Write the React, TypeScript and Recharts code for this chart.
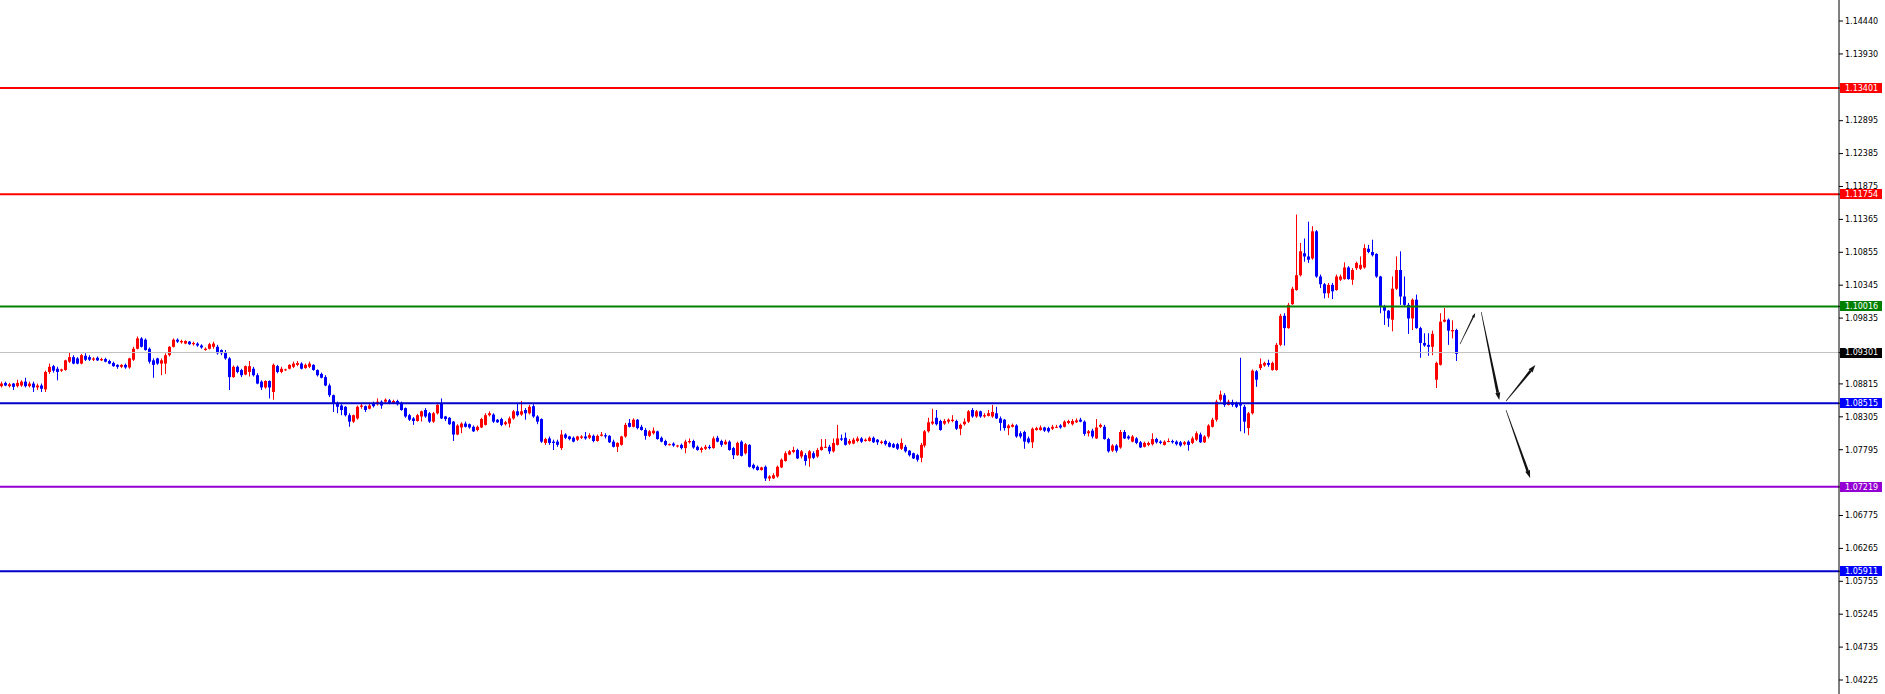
import React from 'react';
import { ComposedChart, Bar, XAxis, YAxis, ReferenceLine } from 'recharts';

// ---------- candle data (oldest -> newest) ----------
const openP = [
  1.0878, 1.0883, 1.0878, 1.0882, 1.0878, 1.0879, 1.0885, 1.0878, 1.0882, 1.0876,
  1.0879, 1.0873, 1.0900, 1.0909, 1.0905, 1.0902, 1.0903, 1.0916, 1.0923, 1.0921,
  1.0913, 1.0925, 1.0923, 1.0919, 1.0922, 1.0918, 1.0920, 1.0917, 1.0914, 1.0911,
  1.0908, 1.0911, 1.0907, 1.0919, 1.0936, 1.0952, 1.0950, 1.0936, 1.0918, 1.0921,
  1.0913, 1.0913, 1.0926, 1.0939, 1.0950, 1.0946, 1.0944, 1.0947, 1.0943, 1.0944,
  1.0941, 1.0934, 1.0936, 1.0939, 1.0939, 1.0934, 1.0931, 1.0921, 1.0892, 1.0908,
  1.0903, 1.0896, 1.0900, 1.0905, 1.0895, 1.0885, 1.0876, 1.0886, 1.0869, 1.0909,
  1.0900, 1.0903, 1.0905, 1.0908, 1.0911, 1.0913, 1.0906, 1.0908, 1.0911, 1.0903,
  1.0897, 1.0892, 1.0879, 1.0864, 1.0851, 1.0848, 1.0846, 1.0833, 1.0823, 1.0828,
  1.0846, 1.0847, 1.0843, 1.0851, 1.0850, 1.0854, 1.0854, 1.0856, 1.0852, 1.0855,
  1.0852, 1.0844, 1.0833, 1.0828, 1.0824, 1.0831, 1.0841, 1.0836, 1.0823, 1.0836,
  1.0852, 1.0831, 1.0829, 1.0823, 1.0803, 1.0814, 1.0820, 1.0819, 1.0815, 1.0810,
  1.0814, 1.0818, 1.0833, 1.0834, 1.0826, 1.0827, 1.0819, 1.0820, 1.0828, 1.0839,
  1.0834, 1.0841, 1.0836, 1.0847, 1.0831, 1.0827, 1.0790, 1.0797, 1.0792, 1.0792,
  1.0782, 1.0803, 1.0800, 1.0798, 1.0795, 1.0798, 1.0800, 1.0798, 1.0801, 1.0793,
  1.0801, 1.0802, 1.0801, 1.0792, 1.0784, 1.0787, 1.0800, 1.0821, 1.0815, 1.0826,
  1.0815, 1.0810, 1.0801, 1.0805, 1.0808, 1.0798, 1.0793, 1.0787, 1.0789, 1.0785,
  1.0787, 1.0782, 1.0791, 1.0793, 1.0784, 1.0779, 1.0781, 1.0784, 1.0782, 1.0798,
  1.0793, 1.0788, 1.0792, 1.0782, 1.0771, 1.0792, 1.0774, 1.0787, 1.0756, 1.0753,
  1.0748, 1.0753, 1.0735, 1.0735, 1.0738, 1.0752, 1.0762, 1.0772, 1.0776, 1.0779,
  1.0769, 1.0771, 1.0766, 1.0774, 1.0769, 1.0779, 1.0783, 1.0784, 1.0777, 1.0787,
  1.0797, 1.0798, 1.0789, 1.0789, 1.0793, 1.0797, 1.0793, 1.0793, 1.0798, 1.0795,
  1.0790, 1.0793, 1.0790, 1.0788, 1.0788, 1.0781, 1.0784, 1.0778, 1.0774, 1.0771,
  1.0767, 1.0786, 1.0808, 1.0820, 1.0829, 1.0824, 1.0820, 1.0823, 1.0824, 1.0824,
  1.0812, 1.0819, 1.0823, 1.0841, 1.0831, 1.0839, 1.0831, 1.0832, 1.0831, 1.0836,
  1.0828, 1.0826, 1.0813, 1.0815, 1.0817, 1.0805, 1.0807, 1.0797, 1.0791, 1.0810,
  1.0810, 1.0814, 1.0813, 1.0812, 1.0814, 1.0817, 1.0815, 1.0821, 1.0819, 1.0822,
  1.0826, 1.0823, 1.0805, 1.0809, 1.0797, 1.0815, 1.0815, 1.0796, 1.0778, 1.0786,
  1.0783, 1.0807, 1.0800, 1.0792, 1.0797, 1.0791, 1.0784, 1.0787, 1.0788, 1.0796,
  1.0792, 1.0787, 1.0792, 1.0793, 1.0792, 1.0791, 1.0788, 1.0792, 1.0790, 1.0795,
  1.0803, 1.0791, 1.0800, 1.0815, 1.0826, 1.0857, 1.0864, 1.0849, 1.0853, 1.0852,
  1.0852, 1.0846, 1.0813, 1.0836, 1.0901, 1.0906, 1.0910, 1.0914, 1.0903, 1.0903,
  1.0942, 1.0987, 1.0968, 1.1005, 1.1027, 1.1050, 1.1084, 1.1079, 1.1076, 1.1118,
  1.1048, 1.1036, 1.1022, 1.1035, 1.1027, 1.1043, 1.1044, 1.1062, 1.1043, 1.1061,
  1.1060, 1.1062, 1.1091, 1.1086, 1.1083, 1.1048, 1.1001, 1.0995, 1.0981, 1.1029,
  1.1058, 1.1017, 1.1004, 1.0983, 1.1012, 1.0968, 1.0945, 1.0942, 1.0939, 1.0888,
  1.0911, 1.0978, 1.0981, 1.0963, 1.0965,
];

const highP = [
  1.0885, 1.0885, 1.0883, 1.0883, 1.0888, 1.0887, 1.0891, 1.0885, 1.0885, 1.0882,
  1.0882, 1.0902, 1.0913, 1.0911, 1.0908, 1.0905, 1.0919, 1.0931, 1.0926, 1.0923,
  1.0928, 1.0929, 1.0926, 1.0923, 1.0924, 1.0922, 1.0922, 1.0919, 1.0916, 1.0912,
  1.0912, 1.0913, 1.0922, 1.0939, 1.0955, 1.0954, 1.0952, 1.0938, 1.0921, 1.0922,
  1.0921, 1.0929, 1.0940, 1.0952, 1.0952, 1.0950, 1.0949, 1.0948, 1.0947, 1.0946,
  1.0943, 1.0938, 1.0945, 1.0947, 1.0942, 1.0935, 1.0934, 1.0923, 1.0910, 1.0910,
  1.0905, 1.0910, 1.0917, 1.0908, 1.0898, 1.0887, 1.0887, 1.0887, 1.0913, 1.0911,
  1.0908, 1.0905, 1.0912, 1.0916, 1.0917, 1.0915, 1.0913, 1.0916, 1.0912, 1.0904,
  1.0899, 1.0895, 1.0882, 1.0865, 1.0854, 1.0850, 1.0847, 1.0836, 1.0834, 1.0848,
  1.0851, 1.0848, 1.0851, 1.0854, 1.0859, 1.0856, 1.0859, 1.0858, 1.0857, 1.0857,
  1.0854, 1.0845, 1.0835, 1.0830, 1.0835, 1.0840, 1.0844, 1.0838, 1.0838, 1.0850,
  1.0859, 1.0832, 1.0830, 1.0824, 1.0819, 1.0822, 1.0823, 1.0820, 1.0817, 1.0817,
  1.0829, 1.0836, 1.0839, 1.0836, 1.0827, 1.0829, 1.0824, 1.0831, 1.0841, 1.0852,
  1.0855, 1.0844, 1.0849, 1.0850, 1.0833, 1.0828, 1.0798, 1.0800, 1.0795, 1.0795,
  1.0810, 1.0805, 1.0801, 1.0800, 1.0801, 1.0802, 1.0807, 1.0805, 1.0803, 1.0803,
  1.0807, 1.0805, 1.0802, 1.0795, 1.0791, 1.0801, 1.0821, 1.0827, 1.0828, 1.0827,
  1.0818, 1.0813, 1.0810, 1.0814, 1.0809, 1.0800, 1.0795, 1.0789, 1.0791, 1.0787,
  1.0789, 1.0795, 1.0797, 1.0795, 1.0786, 1.0784, 1.0787, 1.0787, 1.0800, 1.0801,
  1.0795, 1.0795, 1.0794, 1.0784, 1.0792, 1.0794, 1.0790, 1.0788, 1.0758, 1.0755,
  1.0753, 1.0755, 1.0740, 1.0743, 1.0755, 1.0766, 1.0777, 1.0779, 1.0784, 1.0781,
  1.0779, 1.0774, 1.0779, 1.0777, 1.0782, 1.0796, 1.0796, 1.0787, 1.0797, 1.0818,
  1.0803, 1.0806, 1.0796, 1.0798, 1.0800, 1.0799, 1.0797, 1.0800, 1.0800, 1.0796,
  1.0794, 1.0795, 1.0792, 1.0790, 1.0790, 1.0797, 1.0787, 1.0779, 1.0775, 1.0773,
  1.0790, 1.0810, 1.0829, 1.0843, 1.0841, 1.0826, 1.0827, 1.0828, 1.0833, 1.0826,
  1.0820, 1.0828, 1.0841, 1.0844, 1.0841, 1.0840, 1.0836, 1.0841, 1.0849, 1.0846,
  1.0831, 1.0827, 1.0819, 1.0820, 1.0819, 1.0808, 1.0809, 1.0800, 1.0814, 1.0815,
  1.0817, 1.0815, 1.0815, 1.0818, 1.0818, 1.0819, 1.0825, 1.0826, 1.0827, 1.0828,
  1.0829, 1.0825, 1.0810, 1.0812, 1.0827, 1.0820, 1.0818, 1.0798, 1.0788, 1.0788,
  1.0810, 1.0810, 1.0802, 1.0802, 1.0799, 1.0793, 1.0792, 1.0792, 1.0805, 1.0798,
  1.0794, 1.0794, 1.0797, 1.0795, 1.0794, 1.0793, 1.0793, 1.0794, 1.0800, 1.0808,
  1.0806, 1.0802, 1.0819, 1.0829, 1.0857, 1.0871, 1.0867, 1.0857, 1.0857, 1.0854,
  1.0922, 1.0849, 1.0838, 1.0904, 1.0903, 1.0921, 1.0916, 1.0919, 1.0916, 1.0945,
  1.0990, 1.0991, 1.1007, 1.1032, 1.1144, 1.1100, 1.1107, 1.1133, 1.1126, 1.1120,
  1.1051, 1.1038, 1.1038, 1.1038, 1.1051, 1.1051, 1.1070, 1.1064, 1.1061, 1.1071,
  1.1079, 1.1098, 1.1097, 1.1105, 1.1084, 1.1049, 1.1004, 1.0996, 1.1048, 1.1079,
  1.1087, 1.1048, 1.1007, 1.1014, 1.1020, 1.0970, 1.0960, 1.0960, 1.0964, 1.0916,
  1.0991, 1.0999, 1.0983, 1.0980, 1.0967,
];

const lowP = [
  1.0876, 1.0878, 1.0876, 1.0872, 1.0876, 1.0877, 1.0876, 1.0876, 1.0869, 1.0872,
  1.0869, 1.0869, 1.0897, 1.0899, 1.0887, 1.0900, 1.0902, 1.0914, 1.0912, 1.0912,
  1.0912, 1.0917, 1.0917, 1.0917, 1.0917, 1.0917, 1.0915, 1.0912, 1.0908, 1.0905,
  1.0906, 1.0905, 1.0905, 1.0917, 1.0935, 1.0938, 1.0933, 1.0913, 1.0891, 1.0911,
  1.0895, 1.0897, 1.0924, 1.0938, 1.0945, 1.0944, 1.0943, 1.0942, 1.0941, 1.0939,
  1.0936, 1.0933, 1.0935, 1.0936, 1.0927, 1.0926, 1.0919, 1.0872, 1.0891, 1.0898,
  1.0892, 1.0895, 1.0893, 1.0893, 1.0881, 1.0872, 1.0874, 1.0859, 1.0857, 1.0898,
  1.0898, 1.0902, 1.0904, 1.0906, 1.0909, 1.0904, 1.0905, 1.0906, 1.0902, 1.0893,
  1.0890, 1.0878, 1.0861, 1.0838, 1.0836, 1.0833, 1.0831, 1.0815, 1.0821, 1.0826,
  1.0843, 1.0838, 1.0842, 1.0845, 1.0848, 1.0843, 1.0852, 1.0850, 1.0851, 1.0848,
  1.0840, 1.0829, 1.0824, 1.0818, 1.0823, 1.0823, 1.0829, 1.0821, 1.0821, 1.0834,
  1.0827, 1.0824, 1.0818, 1.0793, 1.0802, 1.0805, 1.0814, 1.0812, 1.0807, 1.0808,
  1.0813, 1.0817, 1.0831, 1.0821, 1.0821, 1.0816, 1.0817, 1.0814, 1.0826, 1.0831,
  1.0832, 1.0826, 1.0834, 1.0829, 1.0819, 1.0790, 1.0787, 1.0787, 1.0779, 1.0784,
  1.0779, 1.0796, 1.0794, 1.0791, 1.0793, 1.0796, 1.0795, 1.0796, 1.0791, 1.0792,
  1.0800, 1.0797, 1.0790, 1.0783, 1.0776, 1.0786, 1.0798, 1.0814, 1.0814, 1.0811,
  1.0809, 1.0795, 1.0799, 1.0803, 1.0795, 1.0791, 1.0785, 1.0786, 1.0784, 1.0783,
  1.0780, 1.0774, 1.0789, 1.0781, 1.0778, 1.0775, 1.0779, 1.0780, 1.0781, 1.0791,
  1.0784, 1.0787, 1.0778, 1.0765, 1.0770, 1.0769, 1.0772, 1.0752, 1.0749, 1.0747,
  1.0747, 1.0731, 1.0731, 1.0734, 1.0736, 1.0751, 1.0761, 1.0771, 1.0774, 1.0765,
  1.0766, 1.0755, 1.0753, 1.0765, 1.0767, 1.0778, 1.0782, 1.0773, 1.0775, 1.0786,
  1.0793, 1.0786, 1.0787, 1.0788, 1.0791, 1.0790, 1.0792, 1.0792, 1.0790, 1.0787,
  1.0788, 1.0786, 1.0783, 1.0782, 1.0779, 1.0779, 1.0775, 1.0769, 1.0765, 1.0761,
  1.0760, 1.0783, 1.0806, 1.0818, 1.0817, 1.0809, 1.0818, 1.0820, 1.0822, 1.0810,
  1.0802, 1.0817, 1.0821, 1.0829, 1.0829, 1.0829, 1.0829, 1.0831, 1.0829, 1.0827,
  1.0809, 1.0809, 1.0802, 1.0814, 1.0798, 1.0797, 1.0781, 1.0789, 1.0782, 1.0809,
  1.0809, 1.0807, 1.0806, 1.0810, 1.0813, 1.0812, 1.0814, 1.0819, 1.0817, 1.0821,
  1.0822, 1.0801, 1.0800, 1.0797, 1.0796, 1.0813, 1.0795, 1.0775, 1.0776, 1.0775,
  1.0781, 1.0796, 1.0795, 1.0791, 1.0788, 1.0782, 1.0783, 1.0785, 1.0786, 1.0789,
  1.0788, 1.0786, 1.0791, 1.0789, 1.0786, 1.0784, 1.0786, 1.0778, 1.0788, 1.0793,
  1.0790, 1.0790, 1.0797, 1.0814, 1.0823, 1.0854, 1.0846, 1.0848, 1.0846, 1.0844,
  1.0808, 1.0805, 1.0802, 1.0834, 1.0877, 1.0903, 1.0908, 1.0908, 1.0902, 1.0902,
  1.0940, 1.0941, 1.0967, 1.1004, 1.1026, 1.1048, 1.1071, 1.1069, 1.1074, 1.1046,
  1.1030, 1.1014, 1.1015, 1.1013, 1.1026, 1.1041, 1.1043, 1.1043, 1.1035, 1.1058,
  1.1058, 1.1060, 1.1084, 1.1079, 1.1046, 1.0991, 1.0973, 1.0970, 1.0963, 1.1027,
  1.1004, 1.1001, 1.0959, 1.0965, 1.0967, 1.0922, 1.0939, 1.0925, 1.0926, 1.0875,
  1.0910, 1.0977, 1.0942, 1.0952, 1.0917,
];

const closeP = [
  1.0882, 1.0879, 1.0881, 1.0877, 1.0883, 1.0885, 1.0878, 1.0882, 1.0876, 1.0879,
  1.0874, 1.0900, 1.0908, 1.0902, 1.0900, 1.0904, 1.0918, 1.0923, 1.0913, 1.0913,
  1.0926, 1.0919, 1.0919, 1.0921, 1.0918, 1.0920, 1.0916, 1.0913, 1.0909, 1.0908,
  1.0911, 1.0907, 1.0921, 1.0936, 1.0952, 1.0939, 1.0934, 1.0916, 1.0911, 1.0913,
  1.0918, 1.0926, 1.0939, 1.0950, 1.0947, 1.0948, 1.0948, 1.0943, 1.0945, 1.0941,
  1.0938, 1.0936, 1.0943, 1.0944, 1.0929, 1.0929, 1.0921, 1.0892, 1.0908, 1.0900,
  1.0895, 1.0909, 1.0909, 1.0895, 1.0882, 1.0876, 1.0886, 1.0876, 1.0911, 1.0900,
  1.0905, 1.0904, 1.0911, 1.0913, 1.0914, 1.0905, 1.0911, 1.0913, 1.0903, 1.0895,
  1.0891, 1.0879, 1.0864, 1.0851, 1.0846, 1.0841, 1.0833, 1.0823, 1.0833, 1.0846,
  1.0848, 1.0841, 1.0848, 1.0847, 1.0854, 1.0848, 1.0857, 1.0852, 1.0855, 1.0850,
  1.0841, 1.0831, 1.0826, 1.0824, 1.0833, 1.0839, 1.0831, 1.0823, 1.0836, 1.0849,
  1.0828, 1.0827, 1.0819, 1.0803, 1.0817, 1.0820, 1.0815, 1.0814, 1.0808, 1.0815,
  1.0827, 1.0833, 1.0836, 1.0823, 1.0822, 1.0818, 1.0822, 1.0828, 1.0839, 1.0833,
  1.0839, 1.0836, 1.0846, 1.0831, 1.0823, 1.0792, 1.0796, 1.0790, 1.0790, 1.0787,
  1.0803, 1.0798, 1.0796, 1.0792, 1.0800, 1.0800, 1.0797, 1.0802, 1.0793, 1.0801,
  1.0803, 1.0800, 1.0791, 1.0784, 1.0790, 1.0800, 1.0818, 1.0815, 1.0826, 1.0813,
  1.0810, 1.0801, 1.0808, 1.0809, 1.0796, 1.0792, 1.0787, 1.0788, 1.0786, 1.0786,
  1.0782, 1.0792, 1.0793, 1.0783, 1.0779, 1.0782, 1.0784, 1.0782, 1.0797, 1.0792,
  1.0787, 1.0792, 1.0779, 1.0771, 1.0790, 1.0770, 1.0788, 1.0753, 1.0751, 1.0748,
  1.0752, 1.0735, 1.0738, 1.0740, 1.0753, 1.0764, 1.0774, 1.0777, 1.0779, 1.0766,
  1.0777, 1.0762, 1.0777, 1.0767, 1.0779, 1.0784, 1.0784, 1.0777, 1.0790, 1.0797,
  1.0795, 1.0787, 1.0793, 1.0795, 1.0797, 1.0792, 1.0795, 1.0798, 1.0791, 1.0791,
  1.0792, 1.0788, 1.0784, 1.0783, 1.0781, 1.0790, 1.0777, 1.0771, 1.0766, 1.0764,
  1.0787, 1.0808, 1.0822, 1.0823, 1.0819, 1.0810, 1.0824, 1.0826, 1.0826, 1.0812,
  1.0818, 1.0823, 1.0839, 1.0831, 1.0839, 1.0831, 1.0833, 1.0836, 1.0838, 1.0828,
  1.0821, 1.0813, 1.0817, 1.0818, 1.0800, 1.0800, 1.0792, 1.0791, 1.0812, 1.0813,
  1.0814, 1.0809, 1.0808, 1.0815, 1.0815, 1.0814, 1.0823, 1.0824, 1.0824, 1.0825,
  1.0823, 1.0804, 1.0808, 1.0800, 1.0814, 1.0818, 1.0796, 1.0777, 1.0786, 1.0778,
  1.0807, 1.0797, 1.0797, 1.0800, 1.0790, 1.0783, 1.0790, 1.0790, 1.0796, 1.0791,
  1.0790, 1.0792, 1.0793, 1.0791, 1.0788, 1.0786, 1.0791, 1.0787, 1.0797, 1.0805,
  1.0791, 1.0800, 1.0817, 1.0826, 1.0854, 1.0865, 1.0849, 1.0854, 1.0849, 1.0846,
  1.0848, 1.0823, 1.0836, 1.0902, 1.0888, 1.0912, 1.0914, 1.0911, 1.0914, 1.0942,
  1.0987, 1.0968, 1.1004, 1.1029, 1.1050, 1.1087, 1.1079, 1.1074, 1.1118, 1.1048,
  1.1036, 1.1022, 1.1035, 1.1025, 1.1048, 1.1048, 1.1062, 1.1044, 1.1058, 1.1069,
  1.1066, 1.1092, 1.1086, 1.1081, 1.1048, 1.1001, 1.0995, 1.0983, 1.1029, 1.1058,
  1.1017, 1.1004, 1.0983, 1.1012, 1.0968, 1.0945, 1.0941, 1.0939, 1.0959, 1.0914,
  1.0978, 1.0981, 1.0964, 1.0965, 1.0928,
];

// ---------- axis / levels ----------
const SLOT_COUNT = 460; // visible bar slots in the window
const priceMin = 1.04008;
const priceMax = 1.14766;

const tickValues = [
  1.1444, 1.1393, 1.12895, 1.12385, 1.11875, 1.11365, 1.10855, 1.10345, 1.09835,
  1.08815, 1.08305, 1.07795, 1.06775, 1.06265, 1.05755, 1.05245, 1.04735, 1.04225,
];

const levelPrices = [1.13401, 1.11754, 1.10016, 1.09301, 1.08515, 1.07219, 1.05911];
const levelLineColors = ['#ff0000', '#ff0000', '#008000', '#c0c0c0', '#0000c8', '#9400d3', '#0000c8'];
const levelTagColors = ['#ff0000', '#ff0000', '#008000', '#000000', '#0000ff', '#9400d3', '#0000ff'];
const levelLineWidths = [2, 2, 2, 1, 2, 2, 2];

// hand-drawn projection arrows (bar index, price)
const arrowX1 = [364.4, 369.7, 375.9, 375.9];
const arrowP1 = [1.09433, 1.09929, 1.08549, 1.0841];
const arrowX2 = [368.2, 374.2, 383.2, 381.9];
const arrowP2 = [1.09914, 1.08565, 1.09107, 1.07356];
const arrowEndWidth = [1.4, 2.8, 2.6, 2.6];
const arrowHead = [3, 5, 5, 5];

const BULL = '#ff0000';
const BEAR = '#0000ff';
const FONT = '"DejaVu Sans", Verdana, sans-serif';

const rows = Array.from({ length: SLOT_COUNT }, (_, k) =>
  k < openP.length
    ? { k, o: openP[k], h: highP[k], l: lowP[k], c: closeP[k], range: [lowP[k], highP[k]] }
    : { k }
);

const Candle = (props: any) => {
  const { x, y, width, height, payload } = props;
  if (!payload || payload.o === undefined || x == null || y == null) return <g />;
  const { o, h, l, c } = payload;
  const top = Math.min(y, y + height);
  const bot = Math.max(y, y + height);
  const span = h - l;
  const toY = (p: number) => (span > 0 ? top + ((h - p) / span) * (bot - top) : top);
  const cx = Math.floor(x + width / 2) + 0.5;
  const color = c >= o ? BULL : BEAR;
  const bTop = toY(Math.max(o, c));
  const bBot = toY(Math.min(o, c));
  const bh = Math.max(1, bBot - bTop);
  return (
    <g>
      <line x1={cx} x2={cx} y1={top} y2={Math.max(bot, top + 1)} stroke={color} strokeWidth={1} />
      <rect x={cx - 1.5} y={bTop} width={3} height={bh} fill={color} />
    </g>
  );
};

const AxisTick = (props: any) => {
  const { x, y, payload } = props;
  const v = payload.value as number;
  const li = levelPrices.indexOf(v);
  const label = v.toFixed(5);
  if (li >= 0) {
    return (
      <g>
        <rect x={x - 4} y={Math.round(y) - 5} width={42} height={10} fill={levelTagColors[li]} />
        <text x={x + 1} y={y} dy="0.35em" fill="#ffffff" fontSize={8} fontFamily={FONT} textAnchor="start">
          {label}
        </text>
      </g>
    );
  }
  return (
    <text x={x + 1} y={y} dy="0.35em" fill="#000000" fontSize={8} fontFamily={FONT} textAnchor="start">
      {label}
    </text>
  );
};

const makeArrow = (w: number, head: number) => (p: any) => {
  const { x1, y1, x2, y2 } = p;
  if ([x1, y1, x2, y2].some((v) => v == null || isNaN(v))) return <g />;
  const dx = x2 - x1;
  const dy = y2 - y1;
  const len = Math.hypot(dx, dy) || 1;
  const ux = dx / len;
  const uy = dy / len;
  const nx = -uy;
  const ny = ux;
  const hl = head * 1.5;
  const bx = x2 - ux * hl;
  const by = y2 - uy * hl;
  const w0 = 0.6;
  const shaft = [
    [x1 + (nx * w0) / 2, y1 + (ny * w0) / 2],
    [bx + (nx * w) / 2, by + (ny * w) / 2],
    [bx - (nx * w) / 2, by - (ny * w) / 2],
    [x1 - (nx * w0) / 2, y1 - (ny * w0) / 2],
  ];
  const tip = [
    [x2, y2],
    [bx + (nx * head) / 2, by + (ny * head) / 2],
    [bx - (nx * head) / 2, by - (ny * head) / 2],
  ];
  const pts = (a: number[][]) => a.map((q) => `${q[0]},${q[1]}`).join(' ');
  return (
    <g>
      <polygon points={pts(shaft)} fill="#111111" />
      <polygon points={pts(tip)} fill="#111111" />
    </g>
  );
};

export default function App() {
  return (
    <div style={{ position: 'fixed', left: 0, top: 0, width: 1885, height: 694, background: '#ffffff' }}>
      <ComposedChart
        width={1885}
        height={694}
        data={rows}
        margin={{ top: 0, right: 0, bottom: 0, left: 0 }}
        barCategoryGap={0}
      >
        <XAxis xAxisId="c" dataKey="k" type="category" hide />
        <XAxis xAxisId="n" type="number" domain={[-0.5, SLOT_COUNT - 0.5]} allowDataOverflow hide />
        <YAxis
          orientation="right"
          width={46}
          type="number"
          domain={[priceMin, priceMax]}
          allowDataOverflow
          ticks={[...tickValues, ...levelPrices]}
          interval={0}
          tick={<AxisTick />}
          tickSize={4}
          tickMargin={1}
          tickLine={{ stroke: '#000000' }}
          axisLine={{ stroke: '#000000' }}
        />
        {levelPrices.map((p, i) => (
          <ReferenceLine
            key={`lvl-${i}`}
            xAxisId="c"
            y={p}
            stroke={levelLineColors[i]}
            strokeWidth={levelLineWidths[i]}
          />
        ))}
        <Bar
          xAxisId="c"
          dataKey="range"
          barSize={3}
          shape={<Candle />}
          isAnimationActive={false}
        />
        {arrowX1.map((_, i) => (
          <ReferenceLine
            key={`arr-${i}`}
            xAxisId="n"
            segment={[
              { x: arrowX1[i], y: arrowP1[i] },
              { x: arrowX2[i], y: arrowP2[i] },
            ]}
            shape={makeArrow(arrowEndWidth[i], arrowHead[i])}
          />
        ))}
      </ComposedChart>
    </div>
  );
}
